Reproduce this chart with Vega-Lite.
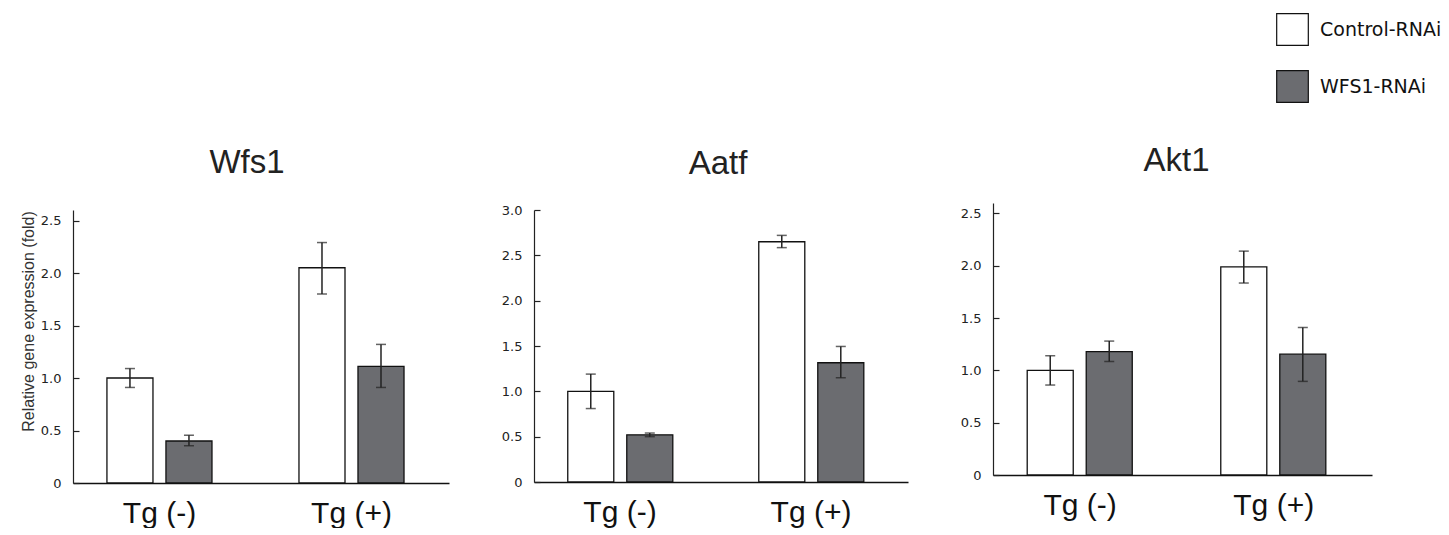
{
  "$schema": "https://vega.github.io/schema/vega-lite/v6.json",
  "background": "white",
  "padding": {"left": 20, "top": 13, "right": 5, "bottom": 0},
  "spacing": 52,
  "config": {
    "view": {"stroke": null},
    "font": "Liberation Sans",
    "axisX": {"title": null, "ticks": false, "labelFontSize": 30, "labelFont": "Liberation Sans", "labelColor": "#111", "labelAngle": 0, "labelPadding": 15, "domainColor": "#111", "domainWidth": 1.5, "grid": false},
    "axisY": {"grid": false, "tickSize": -6, "tickColor": "#222", "tickWidth": 1.2, "domainColor": "#222", "domainWidth": 1.2, "labelFont": "DejaVu Sans", "labelFontSize": 13, "labelColor": "#222", "labelPadding": 18, "labelExpr": "datum.value == 0 ? '0' : format(datum.value, '.1f')"},
    "legend": {"orient": "none", "legendX": 1203, "legendY": -197, "title": null, "symbolType": "square", "symbolSize": 1000, "symbolStrokeColor": "#111", "symbolStrokeWidth": 1.2, "labelFont": "DejaVu Sans", "labelFontSize": 19, "labelColor": "#111", "labelOffset": 11, "rowPadding": 20, "padding": 0},
    "title": {"fontSize": 33, "fontWeight": "normal", "font": "Liberation Sans", "color": "#222", "frame": "group", "baseline": "alphabetic"}
  },
  "datasets": {
    "d": [
      {"gene": "Wfs1", "tg": "Tg (-)", "cond": "Control-RNAi", "value": 1.0, "lo": 0.91, "hi": 1.09},
      {"gene": "Wfs1", "tg": "Tg (-)", "cond": "WFS1-RNAi", "value": 0.40, "lo": 0.355, "hi": 0.455},
      {"gene": "Wfs1", "tg": "Tg (+)", "cond": "Control-RNAi", "value": 2.05, "lo": 1.80, "hi": 2.29},
      {"gene": "Wfs1", "tg": "Tg (+)", "cond": "WFS1-RNAi", "value": 1.11, "lo": 0.91, "hi": 1.32},
      {"gene": "Aatf", "tg": "Tg (-)", "cond": "Control-RNAi", "value": 1.0, "lo": 0.81, "hi": 1.19},
      {"gene": "Aatf", "tg": "Tg (-)", "cond": "WFS1-RNAi", "value": 0.52, "lo": 0.50, "hi": 0.54},
      {"gene": "Aatf", "tg": "Tg (+)", "cond": "Control-RNAi", "value": 2.65, "lo": 2.585, "hi": 2.72},
      {"gene": "Aatf", "tg": "Tg (+)", "cond": "WFS1-RNAi", "value": 1.315, "lo": 1.15, "hi": 1.495},
      {"gene": "Akt1", "tg": "Tg (-)", "cond": "Control-RNAi", "value": 1.0, "lo": 0.86, "hi": 1.14},
      {"gene": "Akt1", "tg": "Tg (-)", "cond": "WFS1-RNAi", "value": 1.18, "lo": 1.085, "hi": 1.28},
      {"gene": "Akt1", "tg": "Tg (+)", "cond": "Control-RNAi", "value": 1.99, "lo": 1.835, "hi": 2.14},
      {"gene": "Akt1", "tg": "Tg (+)", "cond": "WFS1-RNAi", "value": 1.155, "lo": 0.895, "hi": 1.41}
    ]
  },
  "resolve": {"scale": {"y": "independent"}},
  "hconcat": [
    {
      "width": 376, "height": 273,
      "title": {"text": "Wfs1", "offset": 30, "dx": -14},
      "data": {"name": "d"},
      "transform": [{"filter": "datum.gene == 'Wfs1'"}],
      "encoding": {
        "x": {"field": "tg", "type": "nominal", "sort": ["Tg (-)", "Tg (+)"], "scale": {"paddingInner": 0.453, "paddingOuter": 0.2055, "align": 0.43}},
        "xOffset": {"field": "cond", "type": "nominal", "sort": ["Control-RNAi", "WFS1-RNAi"], "scale": {"paddingInner": 0.22, "paddingOuter": 0}}
      },
      "layer": [
        {"mark": {"type": "bar", "stroke": "#111", "strokeWidth": 1.3},
         "encoding": {
           "y": {"field": "value", "type": "quantitative", "scale": {"domain": [0, 2.5]}, "axis": {"values": [0, 0.5, 1, 1.5, 2, 2.5], "labelFontSize": 13, "title": "Relative gene expression (fold)", "titleFont": "Liberation Sans", "titleFontSize": 16, "titleFontWeight": "normal", "titleColor": "#333", "titlePadding": 4, "titleY": 111}},
           "fill": {"field": "cond", "type": "nominal", "scale": {"domain": ["Control-RNAi", "WFS1-RNAi"], "range": ["#ffffff", "#6b6c70"]}}
         }},
        {"mark": {"type": "rule", "strokeWidth": 1.5, "color": "#222"},
         "encoding": {"y": {"field": "lo", "type": "quantitative"}, "y2": {"field": "hi"}}},
        {"mark": {"type": "tick", "size": 10, "thickness": 1.5, "color": "#222"},
         "encoding": {"y": {"field": "lo", "type": "quantitative"}}},
        {"mark": {"type": "tick", "size": 10, "thickness": 1.5, "color": "#222"},
         "encoding": {"y": {"field": "hi", "type": "quantitative"}}}
      ]
    },
    {
      "width": 374, "height": 272,
      "title": {"text": "Aatf", "offset": 23, "dx": -3},
      "data": {"name": "d"},
      "transform": [{"filter": "datum.gene == 'Aatf'"}],
      "encoding": {
        "x": {"field": "tg", "type": "nominal", "sort": ["Tg (-)", "Tg (+)"], "scale": {"paddingInner": 0.453, "paddingOuter": 0.2055, "align": 0.43}},
        "xOffset": {"field": "cond", "type": "nominal", "sort": ["Control-RNAi", "WFS1-RNAi"], "scale": {"paddingInner": 0.22, "paddingOuter": 0}}
      },
      "layer": [
        {"mark": {"type": "bar", "stroke": "#111", "strokeWidth": 1.3},
         "encoding": {
           "y": {"field": "value", "type": "quantitative", "scale": {"domain": [0, 3]}, "axis": {"values": [0, 0.5, 1, 1.5, 2, 2.5, 3], "labelFontSize": 13, "title": null}},
           "fill": {"field": "cond", "type": "nominal", "scale": {"domain": ["Control-RNAi", "WFS1-RNAi"], "range": ["#ffffff", "#6b6c70"]}}
         }},
        {"mark": {"type": "rule", "strokeWidth": 1.5, "color": "#222"},
         "encoding": {"y": {"field": "lo", "type": "quantitative"}, "y2": {"field": "hi"}}},
        {"mark": {"type": "tick", "size": 10, "thickness": 1.5, "color": "#222"},
         "encoding": {"y": {"field": "lo", "type": "quantitative"}}},
        {"mark": {"type": "tick", "size": 10, "thickness": 1.5, "color": "#222"},
         "encoding": {"y": {"field": "hi", "type": "quantitative"}}}
      ]
    },
    {
      "width": 379, "height": 265,
      "title": {"text": "Akt1", "offset": 29, "dx": -6},
      "data": {"name": "d"},
      "transform": [{"filter": "datum.gene == 'Akt1'"}],
      "encoding": {
        "x": {"field": "tg", "type": "nominal", "sort": ["Tg (-)", "Tg (+)"], "scale": {"paddingInner": 0.453, "paddingOuter": 0.2055, "align": 0.43}},
        "xOffset": {"field": "cond", "type": "nominal", "sort": ["Control-RNAi", "WFS1-RNAi"], "scale": {"paddingInner": 0.22, "paddingOuter": 0}}
      },
      "layer": [
        {"mark": {"type": "bar", "stroke": "#111", "strokeWidth": 1.3},
         "encoding": {
           "y": {"field": "value", "type": "quantitative", "scale": {"domain": [0, 2.5], "range": [265, -7]}, "axis": {"values": [0, 0.5, 1, 1.5, 2, 2.5], "labelFontSize": 13, "title": null}},
           "fill": {"field": "cond", "type": "nominal", "scale": {"domain": ["Control-RNAi", "WFS1-RNAi"], "range": ["#ffffff", "#6b6c70"]}}
         }},
        {"mark": {"type": "rule", "strokeWidth": 1.5, "color": "#222"},
         "encoding": {"y": {"field": "lo", "type": "quantitative"}, "y2": {"field": "hi"}}},
        {"mark": {"type": "tick", "size": 10, "thickness": 1.5, "color": "#222"},
         "encoding": {"y": {"field": "lo", "type": "quantitative"}}},
        {"mark": {"type": "tick", "size": 10, "thickness": 1.5, "color": "#222"},
         "encoding": {"y": {"field": "hi", "type": "quantitative"}}}
      ]
    }
  ]
}
